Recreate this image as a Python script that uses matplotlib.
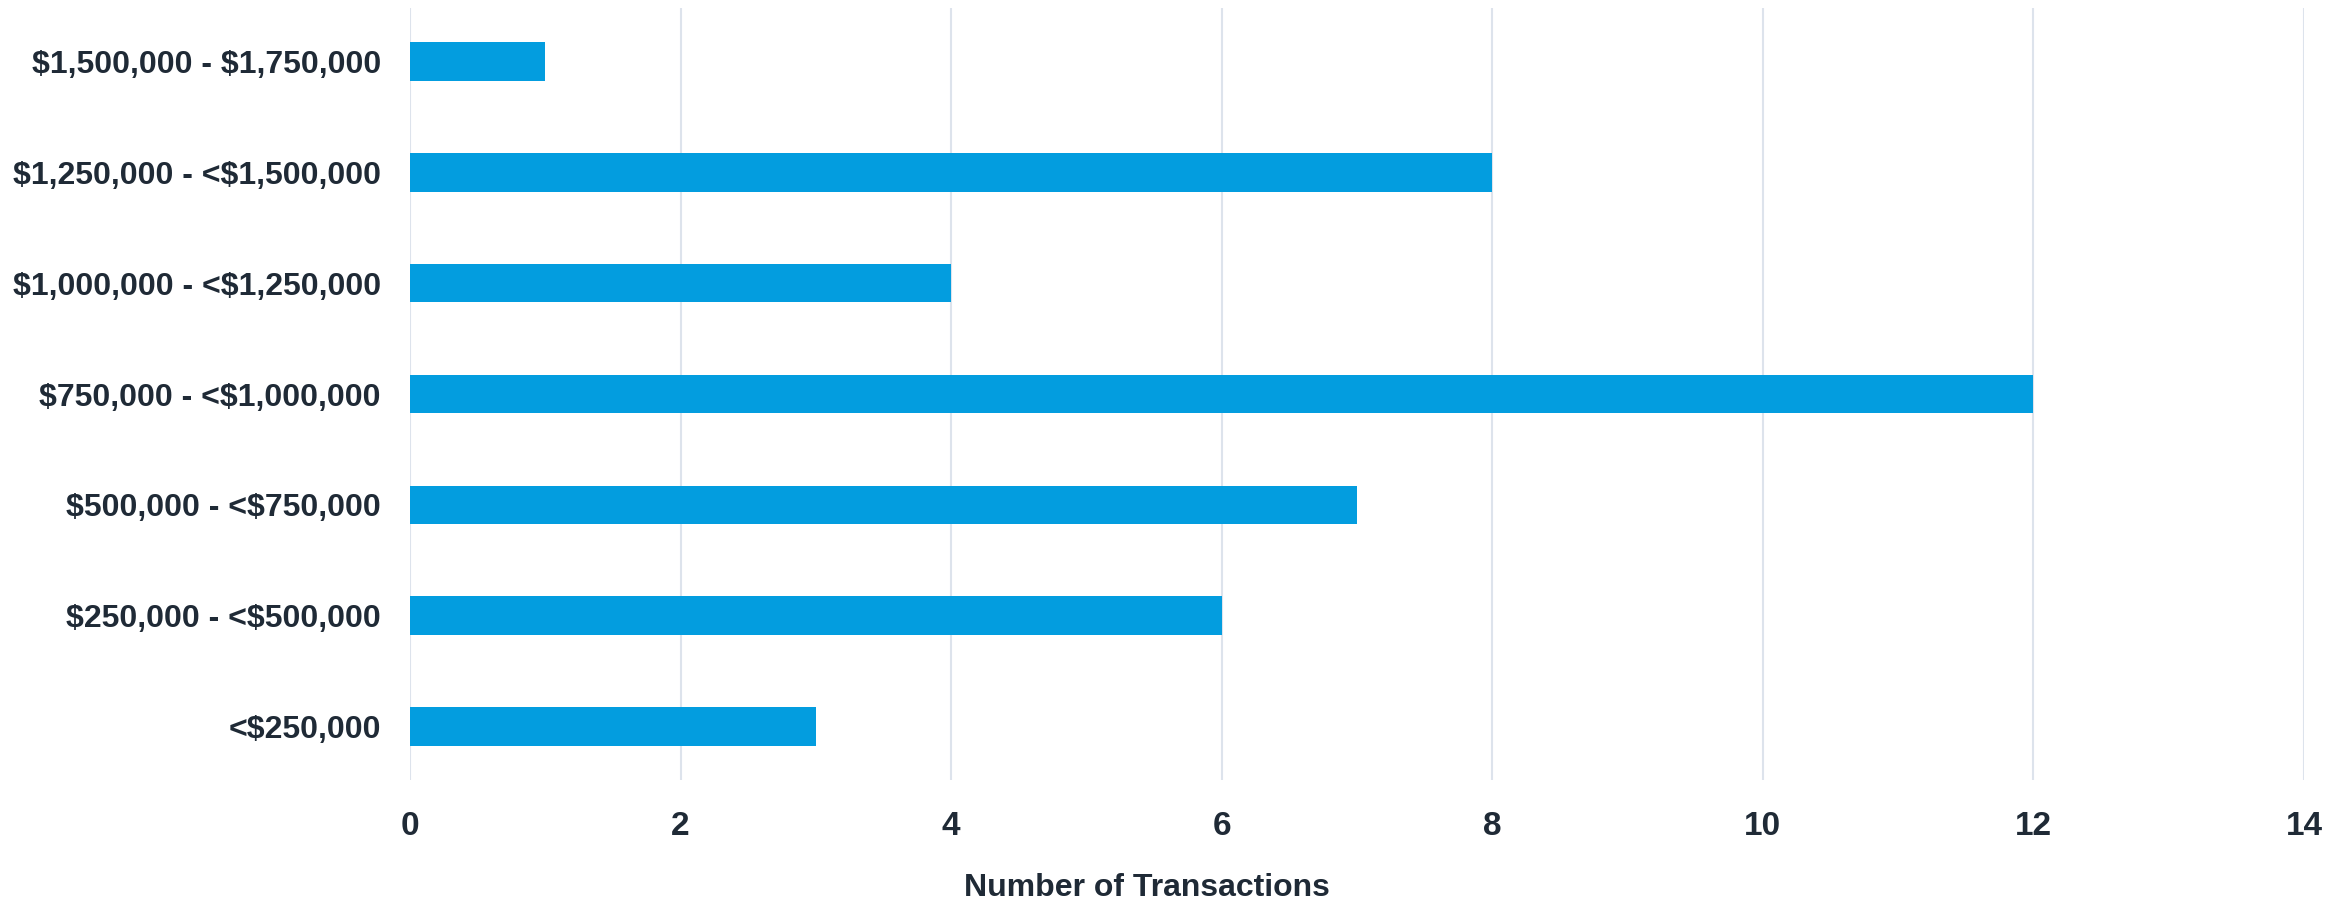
import matplotlib.pyplot as plt

# Price bands (bottom to top) and transaction counts
price_bands = [
    "<$250,000",
    "$250,000 - <$500,000",
    "$500,000 - <$750,000",
    "$750,000 - <$1,000,000",
    "$1,000,000 - <$1,250,000",
    "$1,250,000 - <$1,500,000",
    "$1,500,000 - $1,750,000",
]
transactions = [3, 6, 7, 12, 4, 8, 1]
x_ticks = [0, 2, 4, 6, 8, 10, 12, 14]

plt.rcParams["font.family"] = ["Liberation Sans", "DejaVu Sans"]

bar_color = "#039ddf"
text_color = "#1f2a36"
grid_color = "#dde3ec"

fig = plt.figure(figsize=(23.52, 9.01), dpi=100)
ax = fig.add_axes([410 / 2352, 1 - 780 / 901, (2304 - 410) / 2352, (780 - 8) / 901])

ax.barh(range(len(price_bands)), transactions, height=0.35, color=bar_color, zorder=3)

ax.set_xlim(0, 14)
ax.set_ylim(-0.48, len(price_bands) - 0.52)
ax.set_xticks(x_ticks)
ax.set_yticks(range(len(price_bands)))
# escape $ so it is not read as mathtext
ax.set_yticklabels([b.replace("$", r"\$") for b in price_bands])

ax.grid(axis="x", color=grid_color, linewidth=1.5, zorder=0)
for s in ax.spines.values():
    s.set_visible(False)
ax.tick_params(axis="both", length=0, colors=text_color)
ax.tick_params(axis="x", labelsize=24, pad=22)
ax.tick_params(axis="y", labelsize=23, pad=21)
for lbl in ax.get_xticklabels() + ax.get_yticklabels():
    lbl.set_fontweight("bold")

fig.text(1147 / 2352, 1 - 888 / 901, "Number of Transactions", ha="center", va="center",
         fontsize=23, fontweight="bold", color=text_color)

fig.savefig("out.png", dpi=100)
